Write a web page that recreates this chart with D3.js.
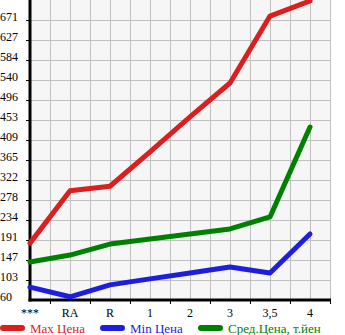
<!DOCTYPE html>
<html>
<head>
<meta charset="utf-8">
<script src="https://cdn.jsdelivr.net/npm/d3@7"></script>
<style>
  body { margin: 0; background: #fff; }
  svg { display: block; }
  text { font-family: "Liberation Serif", "DejaVu Serif", serif; }
</style>
</head>
<body>
<div id="chart"></div>
<script>
// categories and series
const categories = ['***', 'RA', 'R', '1', '2', '3', '3,5', '4'];
const maxPrice = [184, 298, 308, 383, 459, 533, 679, 712];
const minPrice = [88, 67, 93, 106, 119, 132, 119, 204];
const avgPrice = [143, 158, 182, 193, 204, 215, 241, 437];
const yTicks = [60, 103, 147, 191, 234, 278, 322, 365, 409, 453, 496, 540, 584, 627, 671];

const series = [
    { name: 'Max Цена', values: maxPrice, color: '#dc1e1e' },
    { name: 'Min Цена', values: minPrice, color: '#1e1ee0' },
    { name: 'Сред.Цена, т.йен', values: avgPrice, color: '#008000' }
];

const width = 345, height = 335;
const plotLeft = 30, plotRight = 330, plotTop = 0, plotBottom = 300;

const svg = d3.select('#chart').append('svg')
    .attr('width', width)
    .attr('height', height);

const x = d3.scalePoint().domain(categories).range([plotLeft, 310]);
const xi = d3.scaleLinear().domain([0, categories.length - 1]).range([plotLeft, 310]);
const y = d3.scaleLinear().domain([60, 714]).range([plotBottom, plotTop]);

// plot background
svg.append('rect')
    .attr('x', plotLeft).attr('y', plotTop)
    .attr('width', plotRight - plotLeft).attr('height', plotBottom - plotTop)
    .attr('fill', '#f6f6f6');

// grid
const gridX = d3.range(1, 16).map(k => xi(k / 2));
svg.append('g').selectAll('line')
    .data(gridX)
    .join('line')
    .attr('x1', d => d + 0.5).attr('x2', d => d + 0.5)
    .attr('y1', plotTop).attr('y2', plotBottom)
    .attr('stroke', '#c0c0c0').attr('stroke-width', 1);

svg.append('g').selectAll('line')
    .data(yTicks.slice(1))
    .join('line')
    .attr('x1', plotLeft).attr('x2', plotRight)
    .attr('y1', d => Math.round(y(d)) + 0.5).attr('y2', d => Math.round(y(d)) + 0.5)
    .attr('stroke', '#c0c0c0').attr('stroke-width', 1);

// y ticks and labels
svg.append('g').selectAll('line')
    .data(yTicks.slice(1))
    .join('line')
    .attr('x1', plotLeft - 4).attr('x2', plotLeft)
    .attr('y1', d => Math.round(y(d)) + 0.5).attr('y2', d => Math.round(y(d)) + 0.5)
    .attr('stroke', '#000');

svg.append('g').selectAll('text')
    .data(yTicks)
    .join('text')
    .attr('x', 0)
    .attr('y', d => Math.round(y(d)) + 1)
    .attr('font-size', 12)
    .attr('fill', '#000')
    .text(d => d);

// x ticks and labels
svg.append('g').selectAll('line')
    .data(d3.range(0, categories.length).map(i => xi(i + 0.5)))
    .join('line')
    .attr('x1', d => d + 0.5).attr('x2', d => d + 0.5)
    .attr('y1', plotBottom).attr('y2', plotBottom + 4)
    .attr('stroke', '#000');

svg.append('g').selectAll('text')
    .data(categories)
    .join('text')
    .attr('x', d => x(d))
    .attr('y', 317)
    .attr('text-anchor', 'middle')
    .attr('font-size', 12)
    .attr('fill', '#000')
    .text(d => d);

// axes
svg.append('line')
    .attr('x1', plotLeft).attr('x2', plotLeft)
    .attr('y1', plotTop).attr('y2', plotBottom + 1.5)
    .attr('stroke', '#000').attr('stroke-width', 3);
svg.append('line')
    .attr('x1', plotLeft - 1.5).attr('x2', plotRight + 1)
    .attr('y1', plotBottom).attr('y2', plotBottom)
    .attr('stroke', '#000').attr('stroke-width', 3);

// lines
const line = d3.line()
    .x((d, i) => x(categories[i]))
    .y(d => y(d));

svg.append('g').selectAll('path')
    .data(series)
    .join('path')
    .attr('d', d => line(d.values))
    .attr('fill', 'none')
    .attr('stroke', d => d.color)
    .attr('stroke-width', 5)
    .attr('stroke-linejoin', 'round')
    .attr('stroke-linecap', 'round');

// legend
const legendX = [0, 100, 198];
const legend = svg.append('g').selectAll('g')
    .data(series)
    .join('g')
    .attr('transform', (d, i) => `translate(${legendX[i]},328)`);

legend.append('line')
    .attr('x1', 3).attr('x2', 22)
    .attr('y1', 0).attr('y2', 0)
    .attr('stroke', d => d.color)
    .attr('stroke-width', 6)
    .attr('stroke-linecap', 'round');

legend.append('text')
    .attr('x', 30)
    .attr('y', 5)
    .attr('font-size', 13)
    .attr('fill', d => d.color)
    .text(d => d.name);
</script>
</body>
</html>
